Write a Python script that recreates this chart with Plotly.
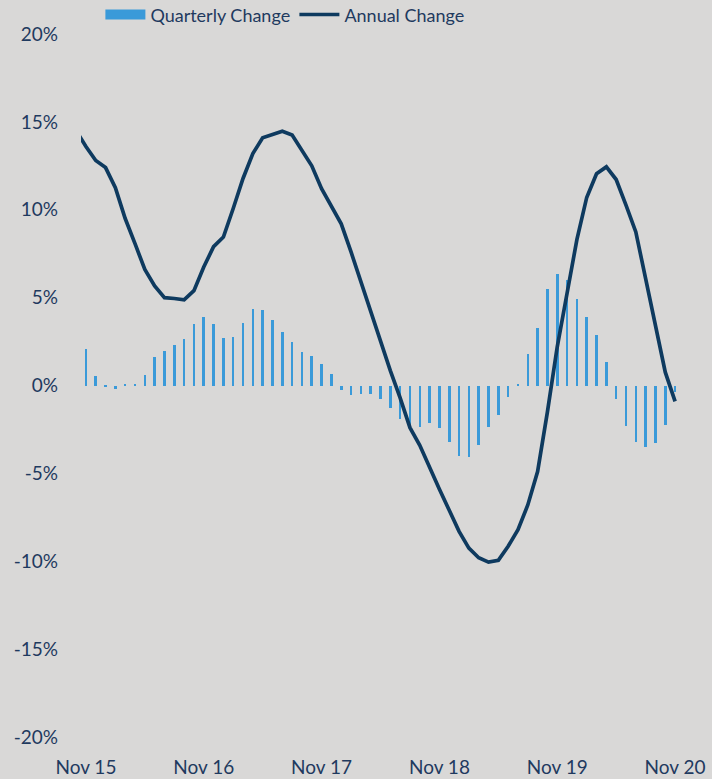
import pandas as pd
import plotly.graph_objects as go

# Month categories (line starts one month earlier; it is clipped at the left edge)
months = list(pd.date_range("2015-10-01", "2020-11-01", freq="MS").strftime("%b %y"))
bar_months = months[1:]

quarterly_change = [
    2.1, 0.55, -0.05, -0.2, 0.03, 0.03, 0.6, 1.6, 1.95, 2.3,
    2.65, 3.5, 3.9, 3.5, 2.7, 2.75, 3.55, 4.35, 4.3, 3.75,
    3.05, 2.45, 1.9, 1.7, 1.2, 0.63, -0.25, -0.53, -0.47, -0.5,
    -0.78, -1.3, -1.9, -2.34, -2.36, -2.15, -2.43, -3.2, -4.0, -4.08,
    -3.38, -2.36, -1.67, -0.65, 0.1, 1.8, 3.3, 5.5, 6.36, 6.0,
    4.92, 3.9, 2.85, 1.36, -0.78, -2.28, -3.19, -3.48, -3.27, -2.24,
    -0.38,
]

annual_change = [
    14.5,
    13.6, 12.8, 12.4, 11.25, 9.5, 8.07, 6.6, 5.66, 5.0, 4.95,
    4.88, 5.4, 6.74, 7.9, 8.45, 10.07, 11.78, 13.2, 14.1, 14.28,
    14.47, 14.25, 13.4, 12.5, 11.2, 10.2, 9.2, 7.6, 5.9, 4.1,
    2.4, 0.85, -0.7, -2.4, -3.4, -4.7, -5.9, -7.1, -8.3, -9.25,
    -9.8, -10.05, -9.95, -9.15, -8.2, -6.8, -4.9, -1.5, 2.2, 5.25,
    8.3, 10.7, 12.05, 12.44, 11.72, 10.26, 8.74, 6.08, 3.32, 0.76,
    -0.9,
]

x_ticks = ["Nov 15", "Nov 16", "Nov 17", "Nov 18", "Nov 19", "Nov 20"]
y_ticks = [-20, -15, -10, -5, 0, 5, 10, 15, 20]
y_tick_text = [f"{v}%" for v in y_ticks]

TEXT = "#1F3A5F"
BG = "#D9D8D7"
BAR = "#3A9AD9"
LINE = "#0E3A5F"
FONT = "Lato"

fig = go.Figure()
fig.add_trace(go.Bar(
    x=bar_months, y=quarterly_change, name="Quarterly Change", showlegend=False,
    marker=dict(color=BAR, line=dict(width=0)), width=0.26,
))
# legend entry for the bars drawn as a wide swatch
fig.add_trace(go.Scatter(
    x=[None], y=[None], name="Quarterly Change", mode="lines",
    line=dict(color=BAR, width=14), hoverinfo="skip",
))
fig.add_trace(go.Scatter(
    x=months, y=annual_change, name="Annual Change", mode="lines",
    line=dict(color=LINE, width=3.7),
))

fig.update_layout(
    width=712, height=779,
    paper_bgcolor=BG, plot_bgcolor=BG,
    margin=dict(l=81, r=32, t=34, b=42),
    font=dict(family=FONT, size=19, color=TEXT),
    showlegend=True,
    legend=dict(orientation="h", xref="container", yref="container",
                x=0.141, xanchor="left", y=0.981, yanchor="middle",
                font=dict(family=FONT, size=18, color=TEXT), itemwidth=40,
                entrywidth=139, entrywidthmode="pixels",
                bgcolor="rgba(0,0,0,0)", traceorder="normal"),
    bargap=0,
)
fig.update_xaxes(
    type="category", categoryorder="array", categoryarray=months,
    range=[0.5, len(months) - 0.5], automargin=False,
    tickmode="array", tickvals=x_ticks, ticktext=x_ticks,
    showgrid=False, zeroline=False, showline=False, ticks="",
    ticklabelstandoff=17, tickfont=dict(size=19, color=TEXT),
)
fig.update_yaxes(
    range=[-20, 20], tickmode="array", tickvals=y_ticks, ticktext=y_tick_text,
    showgrid=False, zeroline=False, showline=False, ticks="", automargin=False,
    ticklabelstandoff=22, tickfont=dict(size=19, color=TEXT),
)

fig.write_html("out.html")
